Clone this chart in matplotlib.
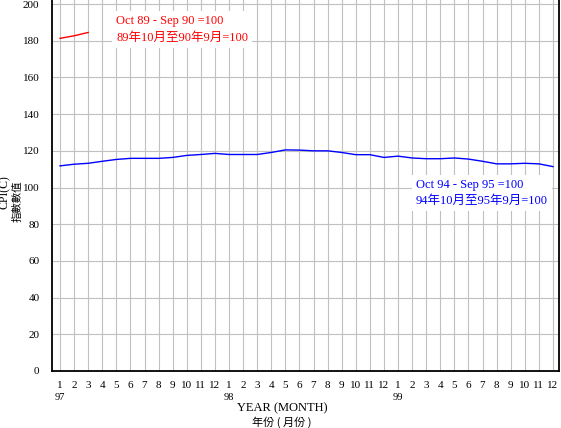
import matplotlib
matplotlib.use("Agg")
import matplotlib.pyplot as plt
import numpy as np

# Composite CPI, Jan 1997 - Dec 1999 (Oct 94 - Sep 95 = 100)
months = list(range(1, 13)) * 3
years = ["97", "98", "99"]
cpi_new = [
    111.8, 112.7, 113.2, 114.3, 115.3, 115.9, 115.9, 115.9, 116.4, 117.5, 118.0, 118.6,
    118.0, 118.0, 118.0, 119.1, 120.5, 120.4, 120.0, 120.0, 119.1, 117.9, 117.9, 116.4,
    117.1, 116.1, 115.7, 115.7, 116.1, 115.5, 114.3, 112.9, 112.9, 113.2, 112.9, 111.4,
]
# old base series (Oct 89 - Sep 90 = 100), only first months
cpi_old = [181.3, 182.7, 184.5]

yticks = list(range(0, 201, 20))

W, H = 561, 428
SERIF = ["Liberation Serif", "Noto Sans CJK TC"]
CJK = ["Noto Sans CJK TC", "Liberation Serif"]

fig = plt.figure(figsize=(W / 100, H / 100), dpi=100)
ax_l, ax_r, ax_b, ax_t = 52, 559, 371, 0
ax = fig.add_axes([ax_l / W, (H - ax_b) / H, (ax_r - ax_l) / W, (ax_b - ax_t) / H])

x = np.arange(len(cpi_new))
ax.plot(x, cpi_new, color="#0000ff", lw=1.0, zorder=3)
ax.plot(x[:len(cpi_old)], cpi_old, color="#ff0000", lw=1.0, zorder=3)

ax.set_xlim(-0.57, 35.43)
ax.set_ylim(0, 202.2)
ax.set_yticks(yticks)
ax.set_yticklabels([str(v) for v in yticks], family=SERIF, fontsize=8)
ax.set_xticks(x)
ax.set_xticklabels([str(m) for m in months], family=SERIF, fontsize=8)
ax.tick_params(length=0, pad=7)
ax.tick_params(axis="y", pad=9)
ax.grid(True, color="#c0c0c0", lw=0.8)
ax.set_axisbelow(True)
for s in ["left", "bottom", "right"]:
    ax.spines[s].set_linewidth(1.3)
ax.spines["top"].set_visible(False)

# year labels under January ticks
for i, yr in enumerate(years):
    ax.annotate(yr, xy=(i * 12, 0), xycoords=("data", "axes fraction"),
                xytext=(0, -26), textcoords="offset pixels",
                ha="center", va="center", family=SERIF, fontsize=7.5)

# base period notes
box = dict(facecolor="white", edgecolor="none", pad=3)
ax.text(3.98, 186.0, "Oct 89 - Sep 90 =100\n89年10月至90年9月=100", color="#ff0000",
        family=SERIF, fontsize=9, va="center", ha="left", linespacing=1.5, bbox=box)
ax.text(25.27, 97.0, "Oct 94 - Sep 95 =100\n94年10月至95年9月=100", color="#0000ff",
        family=SERIF, fontsize=9, va="center", ha="left", linespacing=1.5, bbox=box)

# axis titles
fig.text(282 / W, 1 - 408 / H, "YEAR (MONTH)", family=SERIF, fontsize=9,
         ha="center", va="center")
fig.text(282 / W, 1 - 422 / H, "年份 ( 月份 )", family=CJK, fontsize=8,
         ha="center", va="center")
fig.text(5 / W, 1 - 192 / H, "CPI(C)", family=SERIF, fontsize=8.5,
         rotation=90, ha="center", va="center")
fig.text(18 / W, 1 - 201 / H, "指數數值", family=CJK, fontsize=7.5,
         rotation=90, ha="center", va="center")

fig.savefig("out.png", dpi=100, facecolor="white")
